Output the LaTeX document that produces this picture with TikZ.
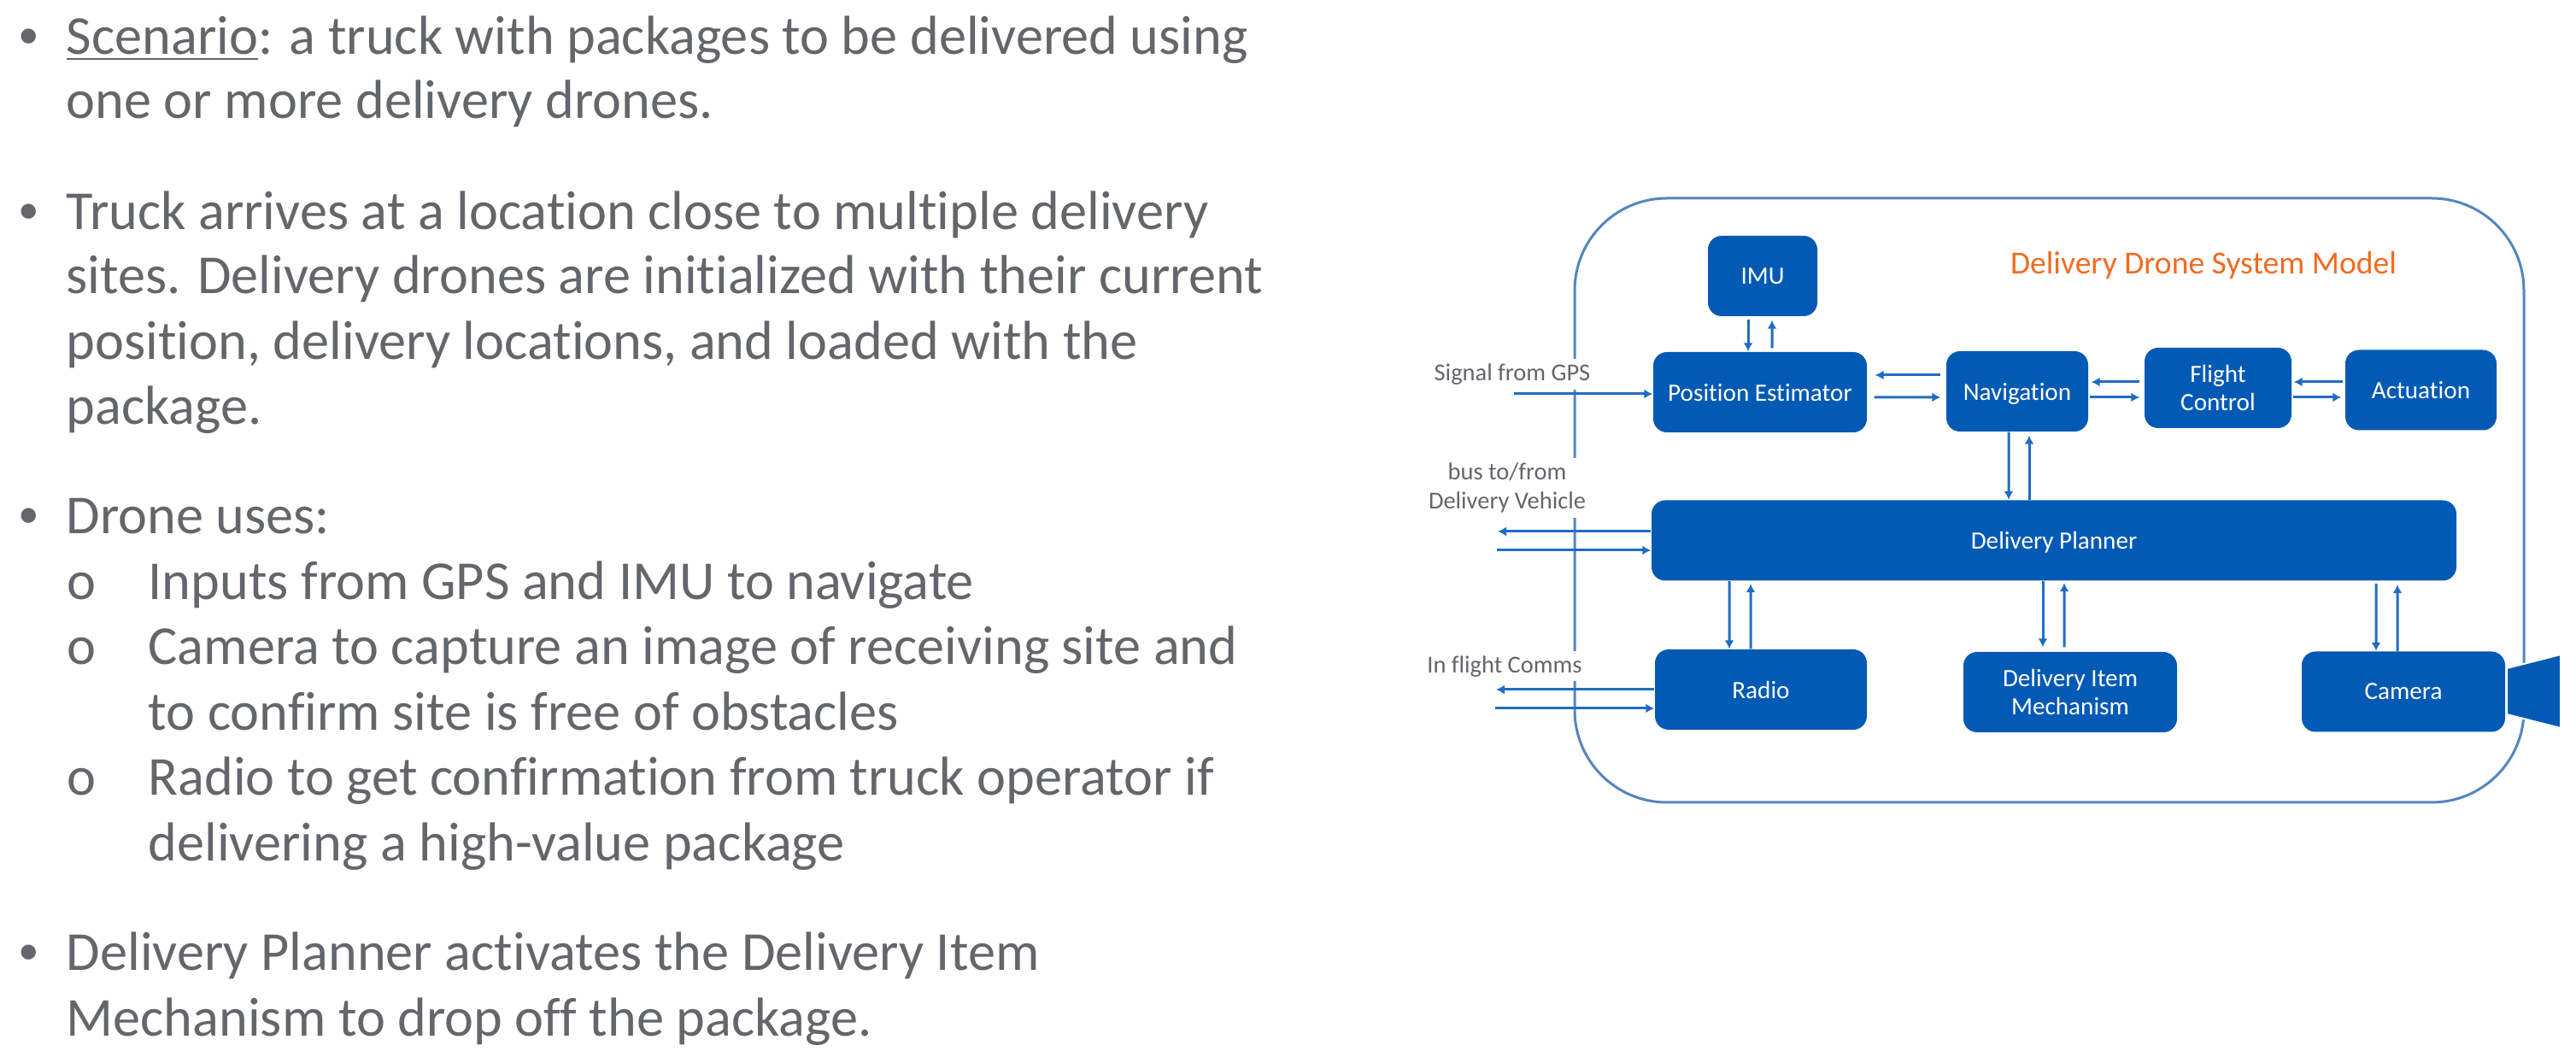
\documentclass[tikz,border=0pt]{standalone}
\usepackage{fontspec}
\setmainfont{Carlito}[Ligatures={TeX,NoCommon}]
\usetikzlibrary{arrows.meta}
\newcommand{\thickunder}[1]{\setbox0\hbox{#1}\rlap{\rule[-1.8pt]{\wd0}{0.8pt}}#1}
\definecolor{boxblue}{HTML}{035AB5}
\definecolor{flowblue}{HTML}{1F6DC2}
\definecolor{edgeblue}{HTML}{5585BE}
\definecolor{textgray}{HTML}{63666A}
\definecolor{titleorange}{HTML}{F26B21}
\tikzset{
  blockbox/.style={fill=boxblue,text=white,rounded corners=0.16cm,inner sep=0pt,minimum height=0.94cm,
    align=center,text depth=0pt,font=\fontsize{8.3}{9.6}\selectfont},
  flow/.style={draw=flowblue,line width=0.03cm,-{Latex[length=0.1cm,width=0.11cm]}},
  sidelabel/.style={fill=white,text=textgray,inner xsep=1pt,inner ysep=0pt,align=center,
    font=\fontsize{8.1}{9.6}\selectfont},
  bodyline/.style={anchor=base west,inner sep=0pt,text=textgray,font=\fontsize{18.3}{20}\selectfont},
  bulletmark/.style={anchor=base west,inner sep=0pt,text=textgray,font=\fontsize{14}{16}\selectfont}
}
\begin{document}
\begin{tikzpicture}
  \useasboundingbox (0,0) rectangle (30.15,12.44);
  %%%%%%%%%%%%%The text on the left%%%%%%%%%%%%%%%%%%%%%%
  \node[bulletmark] (bullet1) at (0.21,11.87) {•};
  \node[bodyline] (line1) at (0.77,11.80) {\thickunder{Scenario}: a truck with packages to be delivered using};
  \node[bodyline] (line2) at (0.77,11.05) {one or more delivery drones.};
  \node[bulletmark] (bullet2) at (0.21,9.82) {•};
  \node[bodyline] (line3) at (0.77,9.75) {Truck arrives at a location close to multiple delivery};
  \node[bodyline] (line4) at (0.77,9.00) {sites. Delivery drones are initialized with their current};
  \node[bodyline] (line5) at (0.77,8.23) {position, delivery locations, and loaded with the};
  \node[bodyline] (line6) at (0.77,7.47) {package.};
  \node[bulletmark] (bullet3) at (0.21,6.26) {•};
  \node[bodyline] (line7) at (0.77,6.19) {Drone uses:};
  \node[bodyline] (circle1) at (0.78,5.42) {o};
  \node[bodyline] (line8) at (1.73,5.42) {Inputs from GPS and IMU to navigate};
  \node[bodyline] (circle2) at (0.78,4.66) {o};
  \node[bodyline] (line9) at (1.73,4.66) {Camera to capture an image of receiving site and};
  \node[bodyline] (line10) at (1.73,3.89) {to confirm site is free of obstacles};
  \node[bodyline] (circle3) at (0.78,3.13) {o};
  \node[bodyline] (line11) at (1.73,3.13) {Radio to get confirmation from truck operator if};
  \node[bodyline] (line12) at (1.73,2.36) {delivering a high-value package};
  \node[bulletmark] (bullet4) at (0.21,1.15) {•};
  \node[bodyline] (line13) at (0.77,1.08) {Delivery Planner activates the Delivery Item};
  \node[bodyline] (line14) at (0.77,0.31) {Mechanism to drop off the package.};

  %%%%%%%%%%%%%The drone outline%%%%%%%%%%%%%%%%%%%%%%
  \draw[edgeblue,line width=0.03cm,rounded corners=1.08cm] (18.43,3.05) rectangle (29.54,10.12);
  \node[text=titleorange,font=\fontsize{10.7}{12}\selectfont] (title) at (25.79,9.34) {Delivery Drone System Model};
  \node[sidelabel,minimum height=0.36cm] (gpslabel) at (17.70,8.06) {Signal from GPS};
  \node[sidelabel,minimum height=0.70cm] (buslabel) at (17.64,6.73) {bus to/from\\Delivery Vehicle};
  \node[sidelabel,minimum height=0.35cm] (commslabel) at (17.61,4.64) {In flight Comms};

  %%%%%%%%%%%%%The blocks%%%%%%%%%%%%%%%%%%%%%%
  \node[blockbox,minimum width=1.28cm] (imu) at (20.63,9.21) {IMU};
  \node[blockbox,minimum width=2.50cm] (pos) at (20.60,7.85) {Position Estimator};
  \node[blockbox,minimum width=1.66cm] (nav) at (23.61,7.86) {Navigation};
  \node[blockbox,minimum width=1.72cm] (flight) at (25.96,7.90) {Flight\\Control};
  \node[blockbox,minimum width=1.77cm] (act) at (28.335,7.875) {Actuation};
  \node[blockbox,minimum width=9.42cm] (plan) at (24.04,6.115) {Delivery Planner};
  \node[blockbox,minimum width=2.48cm] (radio) at (20.61,4.37) {Radio};
  \node[blockbox,minimum width=2.50cm] (item) at (24.23,4.34) {Delivery Item\\Mechanism};
  \node[blockbox,minimum width=2.38cm] (camera) at (28.13,4.345) {Camera};
  \draw[fill=boxblue,draw=white,line width=0.02cm] (29.34,4.62) -- (29.97,4.78) -- (29.97,3.92) -- (29.34,4.08) -- cycle;

  %%%%%%%%%%%%%The free ends%%%%%%%%%%%%%%%%%%%%%%
  \coordinate (gpsin) at (17.72,7.83);
  \coordinate (busout) at (17.53,6.22);
  \coordinate (busin) at (17.515,6.00);
  \coordinate (radioout) at (17.51,4.37);
  \coordinate (radioin) at (17.50,4.15);

  %%%%%%%%%%%%%The arrows%%%%%%%%%%%%%%%%%%%%%%
  \draw[flow] ([xshift=-0.17cm,yshift=-0.03cm]imu.south) -- ([xshift=-0.14cm]pos.north);
  \draw[flow] ([xshift=0.14cm,yshift=0.04cm]pos.north) -- ([xshift=0.11cm,yshift=-0.04cm]imu.south);
  \draw[flow] (gpsin) -- (gpsin -| pos.west);
  \draw[flow] ([xshift=0.08cm,yshift=-0.06cm]pos.east) -- ([xshift=-0.06cm,yshift=-0.07cm]nav.west);
  \draw[flow] ([xshift=-0.06cm,yshift=0.19cm]nav.west) -- ([xshift=0.09cm,yshift=0.20cm]pos.east);
  \draw[flow] ([xshift=0.01cm,yshift=-0.07cm]nav.east) -- ([xshift=-0.05cm,yshift=-0.11cm]flight.west);
  \draw[flow] ([xshift=-0.05cm,yshift=0.07cm]flight.west) -- ([xshift=0.03cm,yshift=0.11cm]nav.east);
  \draw[flow] ([xshift=0.01cm,yshift=-0.11cm]flight.east) -- ([xshift=-0.04cm,yshift=-0.085cm]act.west);
  \draw[flow] ([xshift=-0.02cm,yshift=0.095cm]act.west) -- ([xshift=0.02cm,yshift=0.07cm]flight.east);
  \draw[flow] ([xshift=-0.10cm]nav.south) -- ([xshift=-0.53cm]plan.north);
  \draw[flow] ([xshift=-0.29cm]plan.north) -- ([xshift=0.14cm,yshift=-0.04cm]nav.south);
  \draw[flow] (busout -| plan.west) -- (busout);
  \draw[flow] (busin) -- (busin -| plan.west);
  \draw[flow] ([xshift=-3.80cm]plan.south) -- ([xshift=-0.37cm]radio.north);
  \draw[flow] ([xshift=-0.12cm]radio.north) -- ([xshift=-3.55cm,yshift=-0.03cm]plan.south);
  \draw[flow] ([xshift=-0.13cm]plan.south) -- ([xshift=-0.32cm,yshift=0.05cm]item.north);
  \draw[flow] ([xshift=-0.07cm,yshift=0.05cm]item.north) -- ([xshift=0.12cm,yshift=-0.02cm]plan.south);
  \draw[flow] ([xshift=3.77cm,yshift=-0.03cm]plan.south) -- ([xshift=-0.32cm]camera.north);
  \draw[flow] ([xshift=-0.07cm]camera.north) -- ([xshift=4.02cm,yshift=-0.04cm]plan.south);
  \draw[flow] (radioout -| radio.west) -- (radioout);
  \draw[flow] (radioin) -- (radioin -| radio.west);
\end{tikzpicture}
\end{document}
